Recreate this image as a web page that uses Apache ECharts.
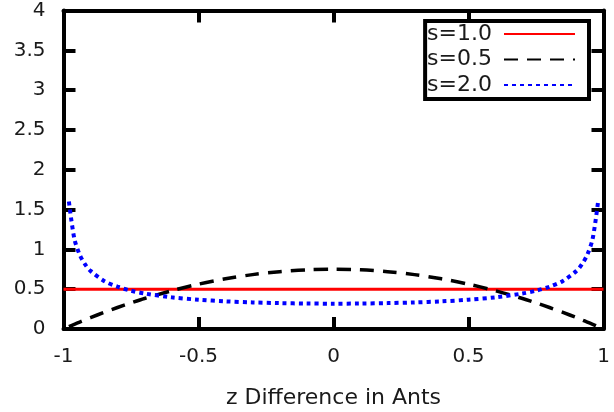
<!DOCTYPE html>
<html>
<head>
<meta charset="utf-8">
<script src="https://cdn.jsdelivr.net/npm/echarts@6/dist/echarts.min.js"></script>
<style>
  html, body { margin: 0; padding: 0; background: #fff; }
  #chart { width: 614px; height: 412px; }
</style>
</head>
<body>
<div id="chart"></div>
<script>
// z values where the curves are sampled
const zValues = [-0.98, -0.96, -0.94, -0.92, -0.9, -0.85, -0.8, -0.75, -0.7, -0.6, -0.5, -0.4, -0.3, -0.2, -0.1, 0,
                 0.1, 0.2, 0.3, 0.4, 0.5, 0.6, 0.7, 0.75, 0.8, 0.85, 0.9, 0.92, 0.94, 0.96, 0.98];

// s = 1.0: flat density
const zFlat = [-1, 1];
const densityS10 = [0.5, 0.5];

// s = 0.5: hump peaking at the centre
const densityS05 = [0.03, 0.059, 0.087, 0.115, 0.143, 0.208, 0.27, 0.328, 0.383, 0.48, 0.563, 0.63, 0.683, 0.72, 0.743, 0.75,
                    0.743, 0.72, 0.683, 0.63, 0.563, 0.48, 0.383, 0.328, 0.27, 0.208, 0.143, 0.115, 0.087, 0.059, 0.03];

// s = 2.0: rises sharply at both ends
const densityS20 = [1.6, 1.137, 0.933, 0.812, 0.73, 0.604, 0.531, 0.481, 0.446, 0.398, 0.368, 0.347, 0.334, 0.325, 0.32, 0.318,
                    0.32, 0.325, 0.334, 0.347, 0.368, 0.398, 0.446, 0.481, 0.531, 0.604, 0.73, 0.812, 0.933, 1.137, 1.6];

const seriesNames = ['s=1.0', 's=0.5', 's=2.0'];
const xTickLabels = { '-1': '-1', '-0.5': '-0.5', '0': '0', '0.5': '0.5', '1': '1' };
const xAxisTitle = 'z Difference in Ants';

const pair = (xs, ys) => xs.map((x, i) => [x, ys[i]]);

const font = 'DejaVu Sans';
const ink = '#1a1a1a';
const frameLine = { show: true, onZero: false, lineStyle: { color: '#000', width: 4 } };
const inTicks = { show: true, inside: true, length: 12, lineStyle: { color: '#000', width: 4 } };

const chart = echarts.init(document.getElementById('chart'), null, { renderer: 'canvas' });
chart.setOption({
  animation: false,
  backgroundColor: '#fff',
  grid: { left: 63.5, right: 10.5, top: 10.5, bottom: 83, containLabel: false, outerBoundsMode: 'none' },
  xAxis: [
    {
      type: 'value', min: -1, max: 1, interval: 0.5, position: 'bottom',
      axisLine: frameLine, axisTick: inTicks, splitLine: { show: false },
      axisLabel: { color: ink, fontFamily: font, fontSize: 20, margin: 18,
                   formatter: v => xTickLabels[String(v)] ?? String(v) },
      name: xAxisTitle, nameLocation: 'middle', nameGap: 58,
      nameTextStyle: { color: ink, fontFamily: font, fontSize: 22 }
    },
    {
      type: 'value', min: -1, max: 1, interval: 0.5, position: 'top',
      axisLine: frameLine, axisTick: inTicks, axisLabel: { show: false }, splitLine: { show: false }
    }
  ],
  yAxis: [
    {
      type: 'value', min: 0, max: 4, interval: 0.5, position: 'left',
      axisLine: frameLine, axisTick: inTicks, splitLine: { show: false },
      axisLabel: { color: ink, fontFamily: font, fontSize: 20, margin: 18 }
    },
    {
      type: 'value', min: 0, max: 4, interval: 0.5, position: 'right',
      axisLine: frameLine, axisTick: inTicks, axisLabel: { show: false }, splitLine: { show: false }
    }
  ],
  legend: {
    right: 25, top: 21, orient: 'vertical', align: 'right',
    backgroundColor: '#fff', borderColor: '#000', borderWidth: 4, borderRadius: 0,
    padding: [2, 13, 3, 2], itemGap: 3.5, itemWidth: 71, itemHeight: 18,
    itemStyle: { opacity: 0 },
    textStyle: { color: ink, fontFamily: font, fontSize: 22, lineHeight: 22 },
    formatter: name => name + ' ',
    data: seriesNames
  },
  series: [
    {
      name: seriesNames[0], type: 'line', symbol: 'none', z: 3,
      data: pair(zFlat, densityS10),
      lineStyle: { color: '#ff0000', width: 3 }, itemStyle: { color: '#ff0000' }
    },
    {
      name: seriesNames[1], type: 'line', symbol: 'none', smooth: 0.3, z: 4,
      data: pair(zValues, densityS05),
      lineStyle: { color: '#000', width: 3.5, type: [14, 9] }, itemStyle: { color: '#000' }
    },
    {
      name: seriesNames[2], type: 'line', symbol: 'none', smooth: 0.3, z: 5,
      data: pair(zValues, densityS20),
      lineStyle: { color: '#0000ff', width: 4, type: [4, 4] }, itemStyle: { color: '#0000ff' }
    }
  ]
});
</script>
</body>
</html>
